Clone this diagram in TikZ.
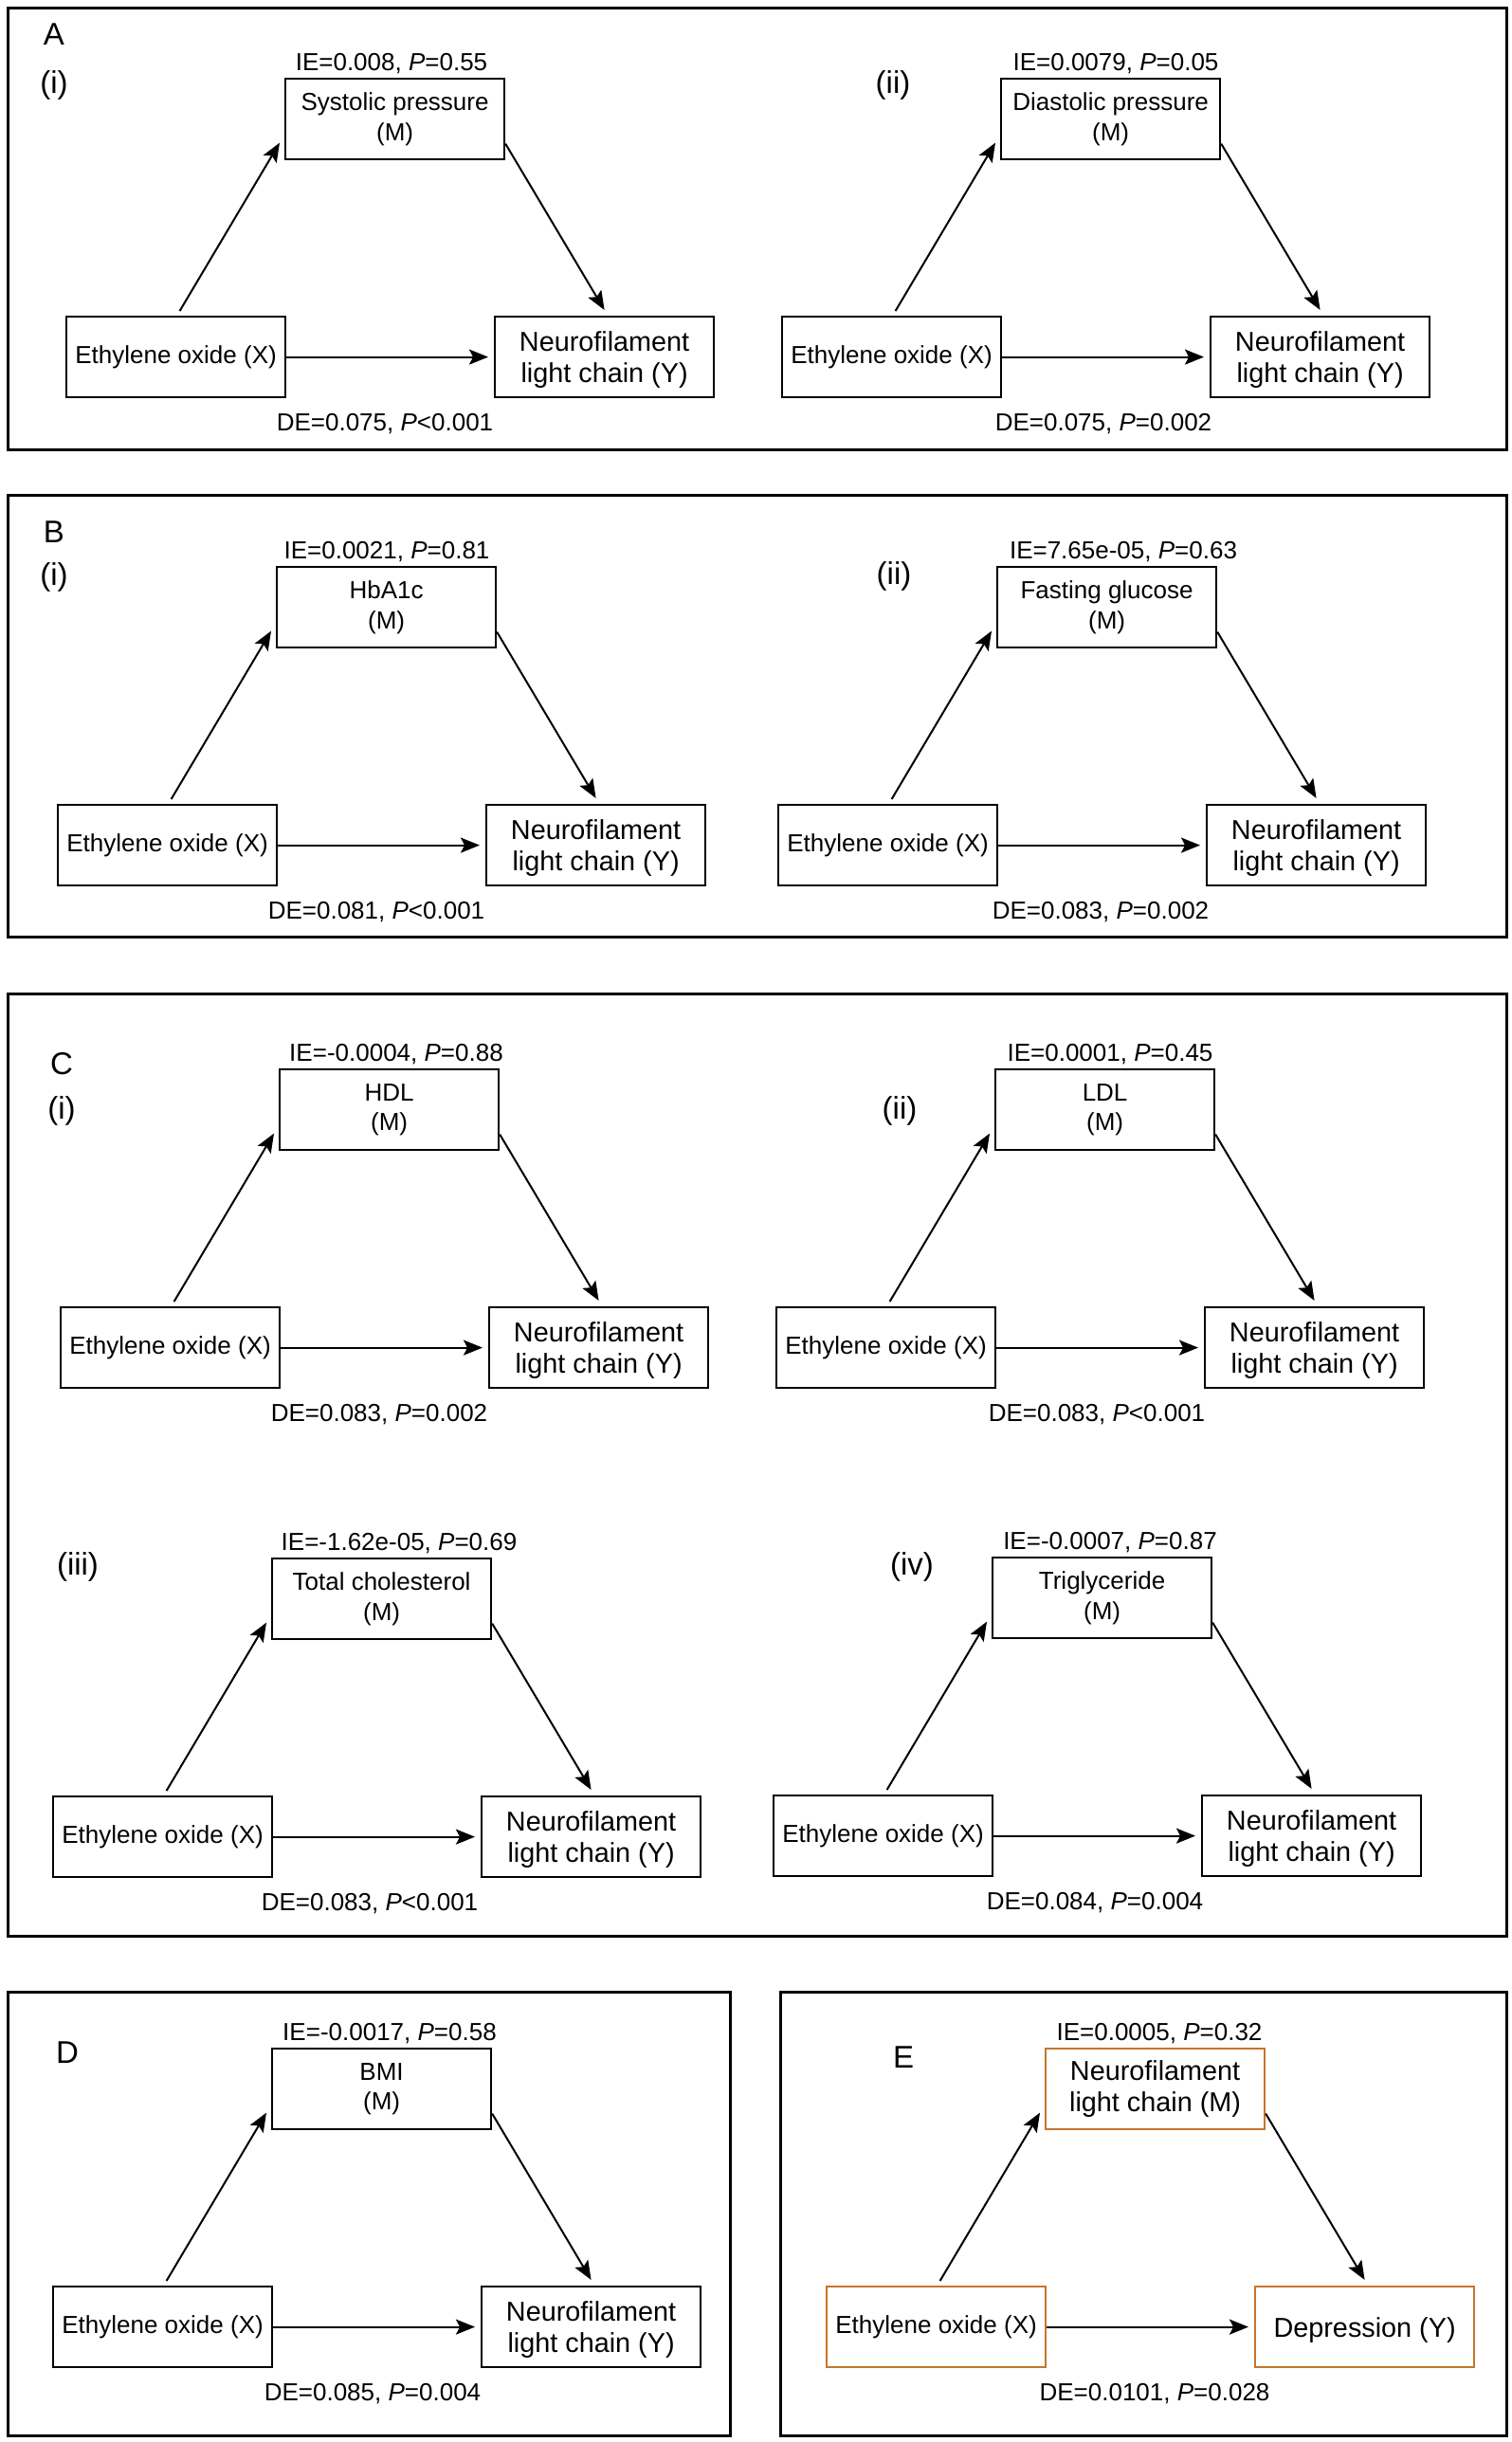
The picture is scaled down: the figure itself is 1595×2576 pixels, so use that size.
\documentclass[tikz,border=0pt]{standalone}
\usepackage{fontspec}
\setmainfont{Liberation Sans}
\usetikzlibrary{calc,arrows.meta}
\definecolor{orangebox}{RGB}{199,117,44}
% #1 prefix, #2/#3 top-left of X box, #4 M text, #5 Y text, #6 IE text, #7 IE x, #8 DE text, #9 DE x
\newcommand\medpanel[9]{%
  \node[xbox] (#1x) at (#2,#3) {Ethylene oxide (X)};
  \node[mbox] (#1m) at (#2+231,#3-251) {#4};
  \node[ybox] (#1y) at (#2+452,#3) {#5};
  \node[lab] (#1ie) at (#7,#3-266) {#6};
  \node[lab] (#1de) at (#9,#3+114) {#8};
  \draw[arr] ($(#1x.north)+(4,-5)$) -- ($(#1m.west)+(-5,25)$);
  \draw[arr] ($(#1m.east)+(0,26)$) -- ($(#1y.north)+(0,-6)$);
  \draw[arr] (#1x.east) -- ($(#1y.west)+(-6,0)$);
}
\begin{document}
\begin{tikzpicture}[x=0.5pt,y=-0.5pt,
  bx/.style={draw=black, line width=1.1pt, inner sep=1pt, minimum width=115.5pt,
    minimum height=42.5pt, anchor=north west, align=center},
  xbox/.style={bx, font=\fontsize{13pt}{15pt}\selectfont},
  mbox/.style={bx, font=\fontsize{13pt}{15.8pt}\selectfont},
  ybox/.style={bx, text depth=0pt, font=\fontsize{14.4pt}{16.6pt}\selectfont},
  lab/.style={inner sep=0pt, font=\fontsize{13pt}{15pt}\selectfont},
  plab/.style={inner sep=0pt, font=\fontsize{16.5pt}{19pt}\selectfont},
  arr/.style={line width=1pt, -{Stealth[length=10pt,width=8pt,inset=2pt]}},
  frame/.style={draw=black, line width=1.5pt}]
\fill[white] (0,0) rectangle (1595,2576);
\useasboundingbox (0,0) rectangle (1595,2576);

% frames
\draw[frame] (8,8) rectangle (1589,474);
\draw[frame] (8,522.5) rectangle (1589,988);
\draw[frame] (8,1048.5) rectangle (1589,2042);
\draw[frame] (8,2101) rectangle (770.5,2569);
\draw[frame] (823.5,2101) rectangle (1589,2569);

% panel labels
\node[plab] (lA) at (57,36) {A};
\node[plab] (lAi) at (57,90) {(i)};
\node[plab] (lAii) at (942,90) {(ii)};
\node[plab] (lB) at (57,561) {B};
\node[plab] (lBi) at (57,609) {(i)};
\node[plab] (lBii) at (943,608) {(ii)};
\node[plab] (lC) at (65,1122) {C};
\node[plab] (lCi) at (65,1172) {(i)};
\node[plab] (lCii) at (949,1172) {(ii)};
\node[plab] (lCiii) at (82,1653) {(iii)};
\node[plab] (lCiv) at (962,1653) {(iv)};
\node[plab] (lD) at (71,2165) {D};
\node[plab] (lE) at (953,2170) {E};

% panel A
\medpanel{ai}{69}{333}{Systolic pressure\\(M)}{Neurofilament\\light chain (Y)}
  {IE=0.008, \textit{P}=0.55}{413}{DE=0.075, \textit{P}<0.001}{406}
\medpanel{aii}{824}{333}{Diastolic pressure\\(M)}{Neurofilament\\light chain (Y)}
  {IE=0.0079, \textit{P}=0.05}{1177}{DE=0.075, \textit{P}=0.002}{1164}
% panel B
\medpanel{bi}{60}{848}{HbA1c\\(M)}{Neurofilament\\light chain (Y)}
  {IE=0.0021, \textit{P}=0.81}{408}{DE=0.081, \textit{P}<0.001}{397}
\medpanel{bii}{820}{848}{Fasting glucose\\(M)}{Neurofilament\\light chain (Y)}
  {IE=7.65e-05, \textit{P}=0.63}{1185}{DE=0.083, \textit{P}=0.002}{1161}
% panel C
\medpanel{ci}{63}{1378}{HDL\\(M)}{Neurofilament\\light chain (Y)}
  {IE=-0.0004, \textit{P}=0.88}{418}{DE=0.083, \textit{P}=0.002}{400}
\medpanel{cii}{818}{1378}{LDL\\(M)}{Neurofilament\\light chain (Y)}
  {IE=0.0001, \textit{P}=0.45}{1171}{DE=0.083, \textit{P}<0.001}{1157}
\medpanel{ciii}{55}{1894}{Total cholesterol\\(M)}{Neurofilament\\light chain (Y)}
  {IE=-1.62e-05, \textit{P}=0.69}{421}{DE=0.083, \textit{P}<0.001}{390}
\medpanel{civ}{815}{1893}{Triglyceride\\(M)}{Neurofilament\\light chain (Y)}
  {IE=-0.0007, \textit{P}=0.87}{1171}{DE=0.084, \textit{P}=0.004}{1155}
% panel D
\medpanel{d}{55}{2411}{BMI\\(M)}{Neurofilament\\light chain (Y)}
  {IE=-0.0017, \textit{P}=0.58}{411}{DE=0.085, \textit{P}=0.004}{393}
% panel E
\begin{scope}[bx/.append style={draw=orangebox},
  mbox/.style={bx, font=\fontsize{14.4pt}{16.6pt}\selectfont}]
\medpanel{e}{871}{2411}{Neurofilament\\light chain (M)}{Depression (Y)}
  {IE=0.0005, \textit{P}=0.32}{1223}{DE=0.0101, \textit{P}=0.028}{1218}
\end{scope}
\end{tikzpicture}
\end{document}
